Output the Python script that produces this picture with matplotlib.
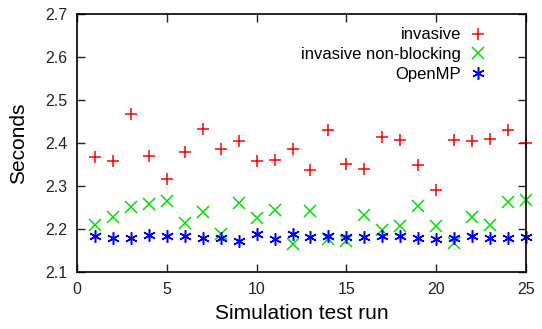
import matplotlib
matplotlib.use("Agg")
import matplotlib.pyplot as plt

plt.rcParams['font.family'] = ['Liberation Sans', 'DejaVu Sans']

runs = list(range(1, 26))
invasive = [2.368, 2.357, 2.467, 2.370, 2.316, 2.380, 2.432, 2.385, 2.404, 2.358,
            2.360, 2.385, 2.337, 2.430, 2.351, 2.339, 2.413, 2.408, 2.349, 2.291,
            2.407, 2.404, 2.410, 2.431, 2.401]
nonblocking = [2.210, 2.228, 2.251, 2.259, 2.265, 2.213, 2.239, 2.189, 2.261, 2.226,
               2.244, 2.166, 2.242, 2.177, 2.172, 2.233, 2.197, 2.206, 2.253, 2.208,
               2.168, 2.227, 2.210, 2.262, 2.267]
openmp = [2.183, 2.178, 2.180, 2.185, 2.184, 2.183, 2.178, 2.179, 2.172, 2.188,
          2.176, 2.188, 2.182, 2.184, 2.182, 2.181, 2.183, 2.184, 2.180, 2.176,
          2.180, 2.184, 2.180, 2.178, 2.182]

fig = plt.figure(figsize=(5.42, 3.29), dpi=100)
ax = fig.add_axes([0.142, 0.1733, 0.8285, 0.7841])

ax.plot(runs, invasive, linestyle='none', marker='+', color='#ff0000',
        markersize=9, markeredgewidth=1.1, label='invasive', clip_on=False)
ax.plot(runs, nonblocking, linestyle='none', marker='x', color='#00e000',
        markersize=8, markeredgewidth=1.1, label='invasive non-blocking', clip_on=False)
ax.plot(runs, openmp, linestyle='none', marker=(6, 2, 0), color='#0000ff',
        markersize=9, markeredgewidth=1.1, label='OpenMP', clip_on=False)

ax.set_xlim(0, 25)
ax.set_ylim(2.1, 2.7)
ax.set_xticks([0, 5, 10, 15, 20, 25])
ax.set_yticks([2.1, 2.2, 2.3, 2.4, 2.5, 2.6, 2.7])
ax.set_yticklabels(['2.1', '2.2', '2.3', '2.4', '2.5', '2.6', '2.7'])
ax.tick_params(direction='in', top=True, right=True, length=6, width=1,
               labelsize=11.5, colors='#222222')
ax.tick_params(axis='x', pad=7)
ax.tick_params(axis='y', pad=7)
for s in ax.spines.values():
    s.set_linewidth(1.2)

ax.set_xlabel('Simulation test run', fontsize=15, labelpad=5)
ax.set_ylabel('Seconds', fontsize=15, labelpad=12)

ax.legend(loc='upper right', frameon=False, markerfirst=False, fontsize=12,
          handlelength=1.2, handletextpad=0.4, labelspacing=0.28,
          borderaxespad=0.4, bbox_to_anchor=(0.945, 1.0))

fig.savefig('out.png', dpi=100)
